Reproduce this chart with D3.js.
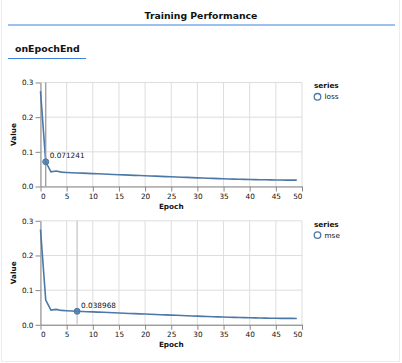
<!DOCTYPE html>
<html><head><meta charset="utf-8">
<script src="https://cdn.jsdelivr.net/npm/d3@7"></script>
<style>
html,body{margin:0;padding:0;background:#fff;}
svg{display:block;}
</style></head>
<body>
<script>
const pageTitle = "Training Performance";
const tabName = "onEpochEnd";
const seriesNames = ["loss", "mse"];
const epochs = d3.range(0, 50);
const lossValues = [0.275, 0.071241, 0.0425, 0.0445, 0.0415, 0.0405, 0.0398, 0.038968, 0.0385, 0.0378,
  0.0372, 0.0366, 0.0360, 0.0353, 0.0347, 0.0341, 0.0335, 0.0328, 0.0322, 0.0316,
  0.0310, 0.0304, 0.0298, 0.0292, 0.0286, 0.0280, 0.0274, 0.0268, 0.0262, 0.0256,
  0.0250, 0.0244, 0.0238, 0.0233, 0.0228, 0.0223, 0.0218, 0.0214, 0.0210, 0.0206,
  0.0202, 0.0199, 0.0196, 0.0193, 0.0190, 0.0188, 0.0186, 0.0185, 0.0184, 0.0183];
const mseValues = lossValues.slice();
const hoverEpochs = [1, 7];
const hoverLabels = ["0.071241", "0.038968"];
const xTicks = d3.range(0, 55, 5);
const yTicks = [0, 0.1, 0.2, 0.3];

const W = 402, H = 363;
const FS = 7.3;
const svg = d3.select("body").append("svg").attr("width", W).attr("height", H)
  .style("font-family", "DejaVu Sans, sans-serif");

// card border
svg.append("rect").attr("x", 1.5).attr("y", -5).attr("width", 398).attr("height", 366.5)
  .attr("fill", "#fff").attr("stroke", "#ececec").attr("stroke-width", 1);

svg.append("text").attr("x", 201).attr("y", 19).attr("text-anchor", "middle")
  .attr("font-size", 9.3).attr("font-weight", "bold").attr("fill", "#111").text(pageTitle);
svg.append("line").attr("x1", 8).attr("x2", 395).attr("y1", 25).attr("y2", 25)
  .attr("stroke", "#3b82e0").attr("stroke-width", 1.2);
svg.append("text").attr("x", 15).attr("y", 52)
  .attr("font-size", 9.4).attr("font-weight", "bold").attr("fill", "#111").text(tabName);
svg.append("line").attr("x1", 8).attr("x2", 86).attr("y1", 58.5).attr("y2", 58.5)
  .attr("stroke", "#3b82e0").attr("stroke-width", 1.2);

const color = "#4c78a8";
const tops = [82.5, 220.8];
const ph = 104;
const x = d3.scaleLinear().domain([0, 50]).range([40.5, 302]);
const allValues = [lossValues, mseValues];
const ruleColors = ["#999", "#c8c8c8"];

tops.forEach((top, i) => {
  const y = d3.scaleLinear().domain([0, 0.3]).range([top + ph, top]);
  const g = svg.append("g");
  // grid
  g.selectAll(".gx").data(xTicks).join("line")
    .attr("x1", d => x(d)).attr("x2", d => x(d)).attr("y1", top).attr("y2", top + ph)
    .attr("stroke", "#ddd").attr("stroke-width", 1);
  g.selectAll(".gy").data(yTicks).join("line")
    .attr("x1", x(0)).attr("x2", x(50)).attr("y1", d => y(d)).attr("y2", d => y(d))
    .attr("stroke", "#ddd").attr("stroke-width", 1);

  const xa = g.append("g").attr("transform", `translate(0,${top + ph})`)
    .call(d3.axisBottom(x).tickValues(xTicks).tickSize(5).tickPadding(2).tickSizeOuter(0));
  xa.select(".domain").attr("stroke", "#888");
  xa.selectAll(".tick line").attr("stroke", "#888");
  xa.selectAll(".tick text").attr("font-size", FS).attr("fill", "#111")
    .attr("font-family", "DejaVu Sans, sans-serif")
    .attr("text-anchor", d => d === 0 ? "start" : (d === 50 ? "end" : "middle"));

  const ya = g.append("g").attr("transform", `translate(${x(0)},0)`)
    .call(d3.axisLeft(y).tickValues(yTicks).tickFormat(d3.format(".1f")).tickSize(5).tickPadding(2).tickSizeOuter(0));
  ya.select(".domain").attr("stroke", "#888");
  ya.selectAll(".tick line").attr("stroke", "#888");
  ya.selectAll(".tick text").attr("font-size", FS).attr("fill", "#111")
    .attr("font-family", "DejaVu Sans, sans-serif");

  g.append("text").attr("x", (x(0) + x(50)) / 2).attr("y", top + ph + 22)
    .attr("text-anchor", "middle").attr("font-size", FS).attr("font-weight", "bold").attr("fill", "#111").text("Epoch");
  g.append("text").attr("transform", `translate(15.5,${top + ph / 2}) rotate(-90)`)
    .attr("text-anchor", "middle").attr("font-size", FS).attr("font-weight", "bold").attr("fill", "#111").text("Value");

  const vals = allValues[i];
  const line = d3.line().x((d, k) => x(epochs[k])).y(d => y(d));
  g.append("path").datum(vals).attr("d", line).attr("fill", "none")
    .attr("stroke", color).attr("stroke-width", 1.6);

  const he = hoverEpochs[i];
  g.append("line").attr("x1", x(he)).attr("x2", x(he)).attr("y1", top).attr("y2", top + ph)
    .attr("stroke", ruleColors[i]).attr("stroke-width", 1.3);
  g.append("circle").attr("cx", x(he)).attr("cy", y(vals[he])).attr("r", 3)
    .attr("fill", color).attr("fill-opacity", 0.85).attr("stroke", color).attr("stroke-width", 1);
  g.append("text").attr("x", x(he) + 4).attr("y", y(vals[he]) - 3.5)
    .attr("font-size", FS).attr("fill", "#111").text(hoverLabels[i]);

  // legend
  g.append("text").attr("x", 314).attr("y", top + 5.8).attr("font-size", FS)
    .attr("font-weight", "bold").attr("fill", "#111").text("series");
  g.append("circle").attr("cx", 317.5).attr("cy", top + 14.3).attr("r", 3.3)
    .attr("fill", "none").attr("stroke", color).attr("stroke-width", 1.3);
  g.append("text").attr("x", 324.5).attr("y", top + 16.8).attr("font-size", FS)
    .attr("fill", "#111").text(seriesNames[i]);
});
</script>
</body></html>
